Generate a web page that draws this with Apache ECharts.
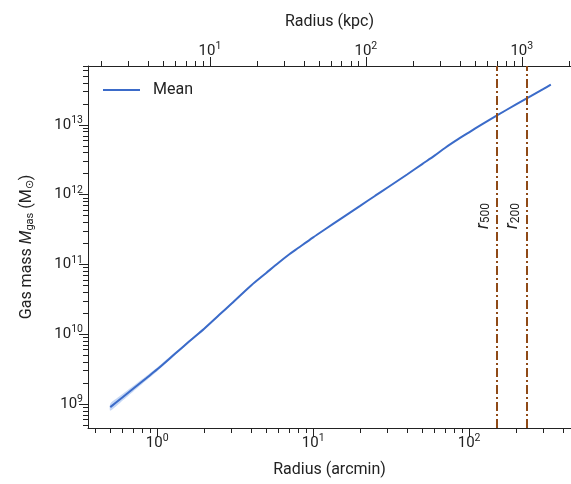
<!DOCTYPE html>
<html><head><meta charset="utf-8">
<script src="https://cdn.jsdelivr.net/npm/echarts@6/dist/echarts.min.js"></script>
<style>html,body{margin:0;padding:0;background:#fff}#c{width:571px;height:484px}</style>
</head><body><div id="c"></div>
<script>
// ---- data ----
const radiusArcmin = [0.5,0.6,0.7,0.85,1,1.3,1.6,2,2.5,3,4,5,6,7,8,10,12,15,20,25,30,40,50,60,70,85,100,120,150,200,250,300,334];
const massMean = [9.02e8,1.25e9,1.65e9,2.34e9,3.14e9,5.24e9,7.85e9,1.20e10,1.90e10,2.76e10,5.01e10,7.57e10,1.06e11,1.39e11,1.72e11,2.45e11,3.23e11,4.51e11,6.92e11,9.68e11,1.27e12,1.95e12,2.75e12,3.63e12,4.68e12,6.25e12,7.85e12,1.01e13,1.36e13,1.97e13,2.61e13,3.29e13,3.78e13];
const bandHalfDex = [0.05,0.045,0.04,0.033,0.027,0.021,0.017,0.014,0.012,0.010,0.009,0.008,0.007,0.007,0.006,0.006,0.006,0.006,0.006,0.006,0.006,0.006,0.006,0.006,0.006,0.006,0.006,0.006,0.006,0.007,0.008,0.009,0.010];
const r500Arcmin = 151.7;
const r200Arcmin = 234.4;
const kpcPerArcmin = 4.594;
const xRangeArcmin = [0.3598, 450];
const yRangeMsun = [4.53e8, 7.0e13];
const xMajorExp = [0,1,2];
const topMajorExp = [1,2,3];
const yMajorExp = [9,10,11,12,13];

// ---- build ----
const L = Math.log10;
const xMin = L(xRangeArcmin[0]), xMax = L(xRangeArcmin[1]);
const tMin = L(xRangeArcmin[0]*kpcPerArcmin), tMax = L(xRangeArcmin[1]*kpcPerArcmin);
const yMin = L(yRangeMsun[0]), yMax = L(yRangeMsun[1]);
function minors(lo, hi){
  const out=[];
  for(let n=Math.floor(lo)-1;n<=Math.ceil(hi);n++){
    for(let k=2;k<=9;k++){const v=n+L(k); if(v>=lo&&v<=hi) out.push(v);}
  }
  return out;
}
const FONT='Roboto';
const supRich = {
  b:{fontSize:15,fontFamily:FONT,color:'#222'},
  s:{fontSize:10.5,fontFamily:FONT,color:'#222',padding:[0,0,9,0]}
};
const fmt = v => '{b|10}{s|'+Math.round(v)+'}';
const lineBlack = {show:true,onZero:false,lineStyle:{color:'#222',width:1}};
function mainAxis(pos,min,max,vals,name,gap){
  return {type:'value',position:pos,min:min,max:max,gridIndex:0,
    axisLine:lineBlack,splitLine:{show:false},
    axisTick:{show:true,customValues:vals,length:9,lineStyle:{color:'#222',width:1}},
    axisLabel:{show:true,customValues:vals,formatter:fmt,rich:supRich,margin:5},
    name:name,nameLocation:'middle',nameGap:gap,
    nameTextStyle:{fontSize:16,fontFamily:FONT,color:'#222'}};
}
function minorAxis(pos,min,max){
  return {type:'value',position:pos,min:min,max:max,gridIndex:0,
    axisLine:{show:false,onZero:false},splitLine:{show:false},
    axisTick:{show:true,customValues:minors(min,max),length:5,lineStyle:{color:'#222',width:1}},
    axisLabel:{show:false}};
}
const lx = radiusArcmin.map(L);
const ly = massMean.map(L);
const mean = lx.map((x,i)=>[x, ly[i]]);
const upperPts = lx.map((x,i)=>[x, ly[i]+bandHalfDex[i]]);
const lowerPts = lx.map((x,i)=>[x, ly[i]-bandHalfDex[i]]).reverse();
const mlColor = '#8f4a17';
const rLabel = sub => ({show:true,position:'insideMiddleTop',formatter:'{i|r}{s|'+sub+'}',
  padding:[0,0,0,62],
  rich:{i:{fontSize:18,fontStyle:'italic',fontFamily:FONT,color:'#222'},
        s:{fontSize:12,fontFamily:FONT,color:'#222',padding:[6,0,0,0]}}});

const chart = echarts.init(document.getElementById('c'),null,{renderer:'canvas'});
chart.setOption({
  animation:false,
  backgroundColor:'#fff',
  grid:{left:88,right:0,top:66,bottom:56,containLabel:false},
  legend:{data:[{name:'Mean',icon:'rect'}],left:98,top:77,itemWidth:37,itemHeight:2,itemGap:10,
    textStyle:{fontSize:16,fontFamily:FONT,color:'#222',padding:[0,0,0,8]}},
  xAxis:[
    mainAxis('bottom',xMin,xMax,xMajorExp,'Radius (arcmin)',34),
    minorAxis('bottom',xMin,xMax),
    mainAxis('top',tMin,tMax,topMajorExp,'Radius (kpc)',36),
    minorAxis('top',tMin,tMax)
  ],
  yAxis:[
    Object.assign(mainAxis('left',yMin,yMax,yMajorExp,'',52),{
      name:'{a|Gas mass }{i|M}{g|gas}{a| (M}{g|⊙}{a|)}',nameRotate:90,
      nameTextStyle:{fontSize:16,fontFamily:FONT,color:'#222',
        rich:{a:{fontSize:16,fontFamily:FONT,color:'#222'},
              i:{fontSize:16,fontStyle:'italic',fontFamily:FONT,color:'#222'},
              g:{fontSize:11,fontFamily:FONT,color:'#222',padding:[7,0,0,0]}}}}),
    minorAxis('left',yMin,yMax)
  ],
  series:[
    {type:'custom',silent:true,xAxisIndex:0,yAxisIndex:0,data:[0],clip:true,z:1,
     renderItem:function(params,api){
       const pts = upperPts.concat(lowerPts).map(p=>api.coord(p));
       return {type:'polygon',shape:{points:pts,smooth:0.2},
               style:{fill:'rgba(90,140,225,0.35)'}};
     }},
    {type:'line',name:'Mean',data:mean,symbol:'none',smooth:0.3,z:3,
     lineStyle:{color:'#3b6bc9',width:2},itemStyle:{color:'#3b6bc9'},xAxisIndex:0,yAxisIndex:0,
     markLine:{symbol:'none',silent:true,animation:false,
       lineStyle:{color:mlColor,width:2,type:[9,3,2,3]},
       data:[{xAxis:L(r500Arcmin),label:rLabel('500')},{xAxis:L(r200Arcmin),label:rLabel('200')}]}}
  ]
});
</script></body></html>
